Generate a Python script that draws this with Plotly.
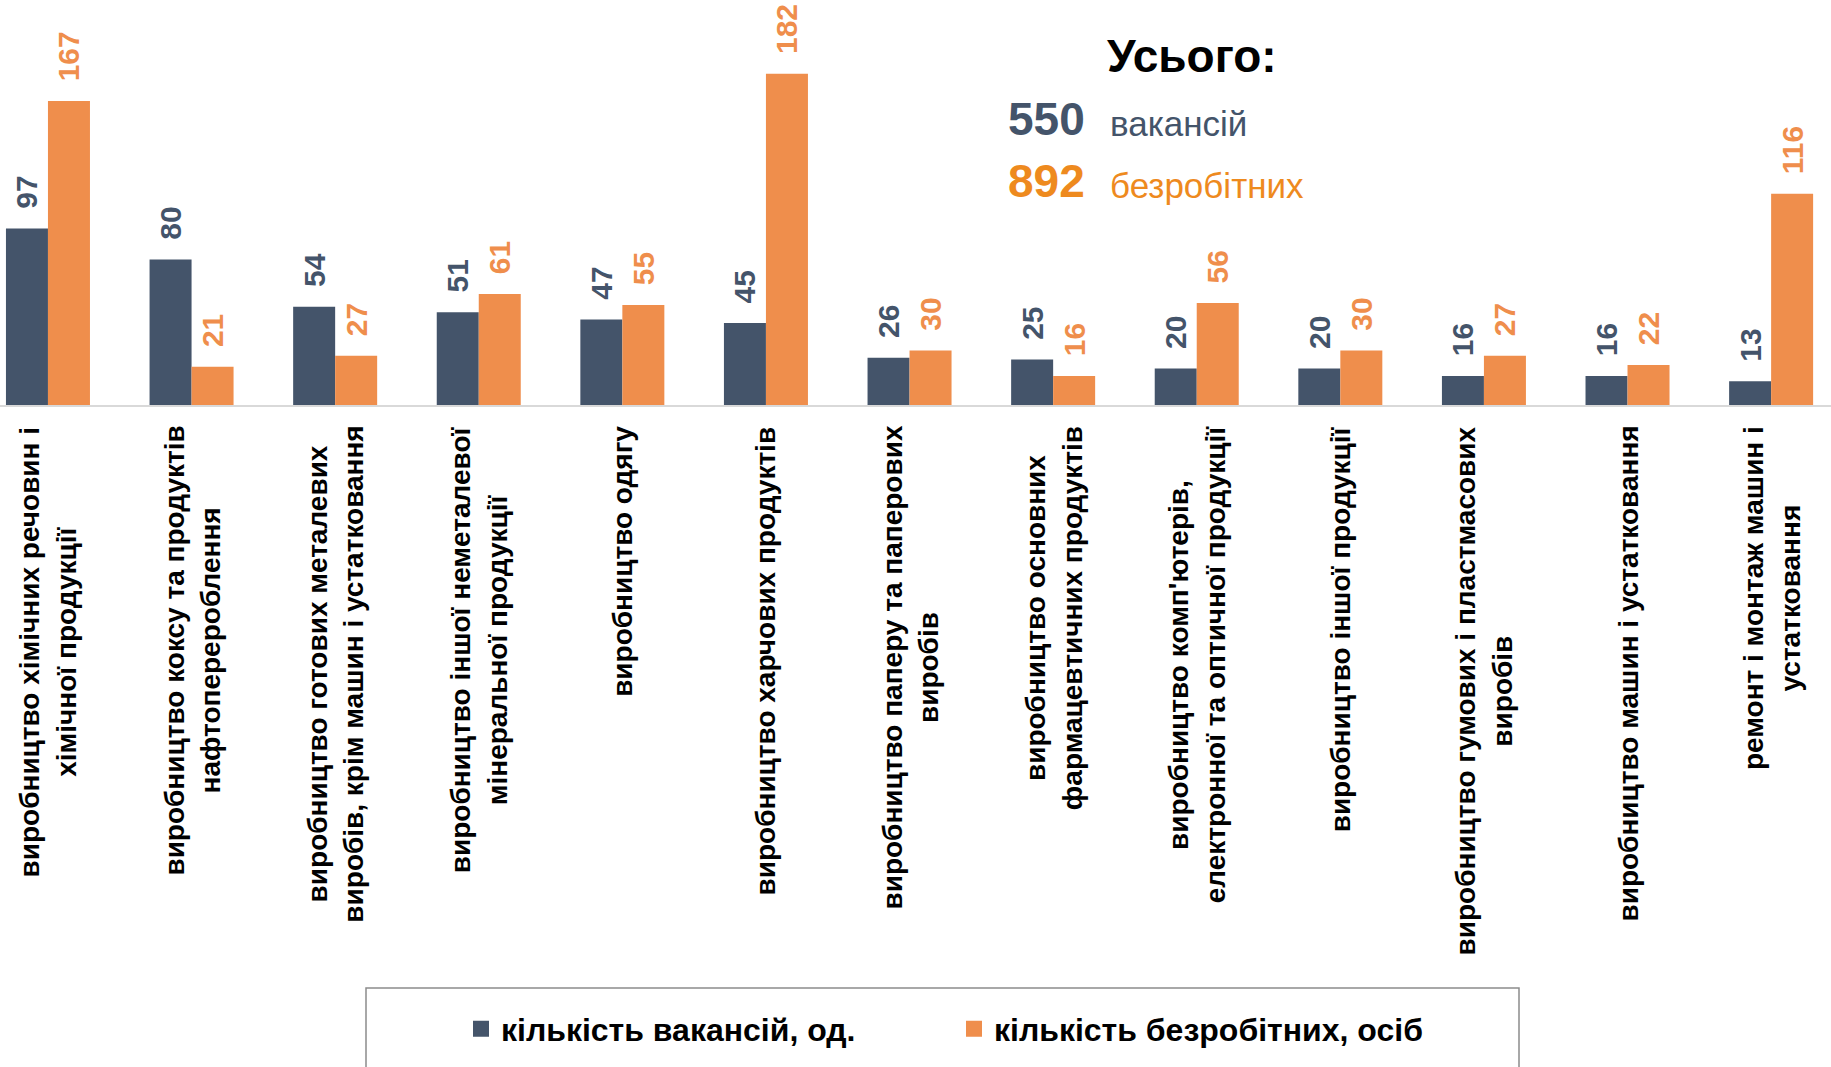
import plotly.graph_objects as go

# Industry categories (multi-line labels)
categories = [
    "виробництво хімічних речовин і<br>хімічної продукції",
    "виробництво коксу та продуктів<br>нафтоперероблення",
    "виробництво готових металевих<br>виробів, крім машин і устатковання",
    "виробництво іншої неметалевої<br>мінеральної продукції",
    "виробництво одягу",
    "виробництво харчових продуктів",
    "виробництво паперу та паперових<br>виробів",
    "виробництво основних<br>фармацевтичних продуктів",
    "виробництво комп'ютерів,<br>електронної та оптичної продукції",
    "виробництво іншої продукції",
    "виробництво гумових і пластмасових<br>виробів",
    "виробництво машин і устатковання",
    "ремонт і монтаж машин і<br>устатковання",
]
vacancies = [97, 80, 54, 51, 47, 45, 26, 25, 20, 20, 16, 16, 13]
unemployed = [167, 21, 27, 61, 55, 182, 30, 16, 56, 30, 27, 22, 116]

series_names = ["кількість вакансій, од.", "кількість безробітних, осіб"]
total_vacancies_text = "550"
total_unemployed_text = "892"

DARK = "#44546A"
ORANGE = "#EF8E4C"
ORANGE_TOTAL = "#EE8A1E"

W, H = 1831, 1067
PLOT_BOTTOM = 405  # pixel row of the baseline

fig = go.Figure()

label_font = dict(family="Liberation Sans, Arial, sans-serif", size=30)
for vals, color, name in [(vacancies, DARK, series_names[0]),
                          (unemployed, ORANGE, series_names[1])]:
    fig.add_trace(go.Bar(
        x=categories, y=vals, name=name,
        marker=dict(color=color, line=dict(width=0)),
        texttemplate="\u00a0\u00a0<b>%{y}</b>",
        textposition="outside", textangle=-90,
        textfont=dict(color=color, **label_font),
        constraintext="none", cliponaxis=False,
        showlegend=False, hoverinfo="x+y",
    ))
    # legend entry with a larger square swatch
    fig.add_trace(go.Scatter(
        x=[None], y=[None], mode="markers", name=name,
        marker=dict(symbol="square", size=16, color=color),
        showlegend=True,
    ))


def px_x(p):
    return p / W


def px_y(p):
    return (PLOT_BOTTOM - p) / PLOT_BOTTOM


annotations = []
# category labels, rotated and centred under each group
for cat in categories:
    annotations.append(dict(
        x=cat, xref="x", y=0, yref="y", yanchor="top", xanchor="center",
        yshift=-19, text="<b>" + cat + "</b>", textangle=-90, align="center",
        showarrow=False,
        font=dict(family="Liberation Sans Narrow, Arial Narrow, sans-serif",
                  size=28, color="#000000"),
    ))

# totals block
annotations += [
    dict(x=px_x(1105), y=px_y(56), xref="paper", yref="paper",
         xanchor="left", yanchor="middle", showarrow=False,
         text="<b>Усього:</b>",
         font=dict(family="Liberation Sans, Arial, sans-serif", size=46, color="#000000")),
    dict(x=px_x(1006), y=px_y(119), xref="paper", yref="paper",
         xanchor="left", yanchor="middle", showarrow=False,
         text="<b>" + total_vacancies_text + "</b>",
         font=dict(family="Liberation Sans, Arial, sans-serif", size=46, color=DARK)),
    dict(x=px_x(1108), y=px_y(123), xref="paper", yref="paper",
         xanchor="left", yanchor="middle", showarrow=False,
         text="вакансій",
         font=dict(family="Liberation Sans, Arial, sans-serif", size=35, color=DARK)),
    dict(x=px_x(1006), y=px_y(181), xref="paper", yref="paper",
         xanchor="left", yanchor="middle", showarrow=False,
         text="<b>" + total_unemployed_text + "</b>",
         font=dict(family="Liberation Sans, Arial, sans-serif", size=46, color=ORANGE_TOTAL)),
    dict(x=px_x(1108), y=px_y(185), xref="paper", yref="paper",
         xanchor="left", yanchor="middle", showarrow=False,
         text="безробітних",
         font=dict(family="Liberation Sans, Arial, sans-serif", size=35, color=ORANGE_TOTAL)),
]

shapes = [
    # legend frame
    dict(type="rect", xref="paper", yref="paper",
         x0=px_x(366), x1=px_x(1519), y0=px_y(988), y1=px_y(1080),
         line=dict(color="#8C8C8C", width=1.5), fillcolor="rgba(0,0,0,0)"),
]

fig.update_layout(
    width=W, height=H,
    margin=dict(l=0, r=0, t=0, b=H - PLOT_BOTTOM, autoexpand=False),
    paper_bgcolor="white", plot_bgcolor="white",
    barmode="group", bargap=0.415, bargroupgap=0,
    xaxis=dict(type="category", range=[-0.334, 12.417], showticklabels=False,
               showgrid=False, zeroline=False, showline=True,
               linecolor="#D9D9D9", linewidth=2, ticks=""),
    yaxis=dict(range=[0, 222.5], visible=False, showgrid=False, zeroline=False),
    legend=dict(orientation="h", x=px_x(461), y=px_y(1029), xanchor="left",
                yanchor="middle", entrywidth=448, entrywidthmode="pixels",
                font=dict(family="Liberation Sans Narrow, Arial Narrow, sans-serif",
                          size=32, color="#000000", weight="bold"),
                bgcolor="rgba(0,0,0,0)"),
    annotations=annotations,
    shapes=shapes,
)

fig.write_html("out.html")
